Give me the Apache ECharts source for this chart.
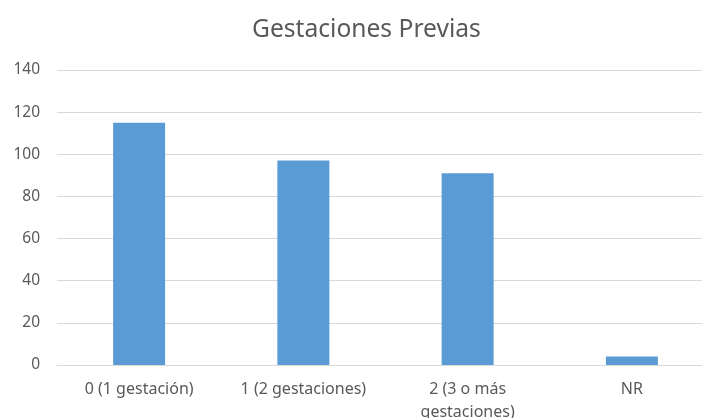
<!DOCTYPE html>
<html>
<head>
<meta charset="utf-8">
<style>
  html, body { margin: 0; padding: 0; background: #ffffff; }
  #chart { width: 702px; height: 418px; }
</style>
<script src="https://cdn.jsdelivr.net/npm/echarts@6/dist/echarts.min.js"></script>
</head>
<body>
<div id="chart"></div>
<script>
// Número de gestaciones previas
const categories = ['0 (1 gestación)', '1 (2 gestaciones)', '2 (3 o más\ngestaciones)', 'NR'];
const values = [115, 97, 91, 4];
const yTicks = { min: 0, max: 140, interval: 20 };

const font = 'Noto Sans';
const textColor = '#595959';

const chart = echarts.init(document.getElementById('chart'), null, { renderer: 'canvas' });
chart.setOption({
  animation: false,
  backgroundColor: '#ffffff',
  title: {
    text: 'Gestaciones Previas',
    left: 252,
    top: 17,
    padding: 0,
    textStyle: { fontFamily: font, fontSize: 24.6, fontWeight: 'normal', color: textColor }
  },
  // plot area runs slightly past the right edge of the canvas
  grid: { left: 57, top: 70, width: 657, height: 295, containLabel: false, outerBoundsMode: 'none' },
  xAxis: {
    type: 'category',
    data: categories,
    axisLine: { show: true, lineStyle: { color: '#d9d9d9', width: 1 } },
    axisTick: { show: false },
    axisLabel: {
      interval: 0,
      margin: 13,
      fontFamily: font,
      fontSize: 16,
      lineHeight: 23,
      color: textColor
    }
  },
  yAxis: {
    type: 'value',
    min: yTicks.min,
    max: yTicks.max,
    interval: yTicks.interval,
    axisLine: { show: false },
    axisTick: { show: false },
    axisLabel: { margin: 17, fontFamily: font, fontSize: 15.5, color: textColor },
    splitLine: { lineStyle: { color: '#d9d9d9', width: 1 } }
  },
  series: [{
    type: 'bar',
    data: values,
    barWidth: 52,
    itemStyle: { color: '#5b9bd5' }
  }]
});
</script>
</body>
</html>
